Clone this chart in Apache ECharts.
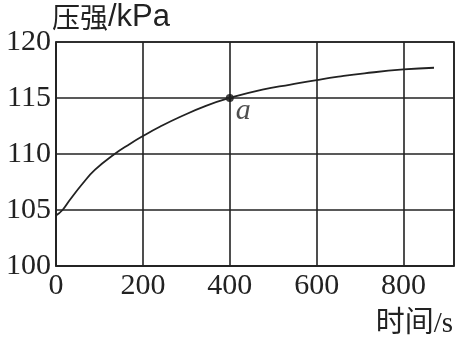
<!DOCTYPE html>
<html><head><meta charset="utf-8">
<script src="https://cdn.jsdelivr.net/npm/echarts@6/dist/echarts.min.js"></script>
<style>html,body{margin:0;padding:0;background:#fff}#c{width:462px;height:338px}</style>
</head><body><div id="c"></div>
<script>
var timeS = [0, 15, 30, 60, 90, 135, 170, 200, 240, 285, 345, 400, 475, 540, 600, 650, 710, 800, 870];
var pressure = [104.5, 105.0, 105.8, 107.3, 108.6, 110.0, 110.9, 111.6, 112.45, 113.3, 114.3, 115.0, 115.75, 116.2, 116.6, 116.9, 117.2, 117.55, 117.7];
var pointA = [400, 115];
var pointALabel = 'a';
var yTicks = [100, 105, 110, 115, 120];
var xTicks = [0, 200, 400, 600, 800];

var serif = '"Liberation Serif", "Noto Sans CJK SC", serif';
var chart = echarts.init(document.getElementById('c'));
chart.setOption({
  animation: false,
  backgroundColor: '#fff',
  grid: {left: 56, right: 8, top: 42, bottom: 72, show: true, borderColor: '#222', borderWidth: 1.6,
    outerBoundsMode: 'none', containLabel: false},
  xAxis: {
    type: 'value', min: xTicks[0], max: 916, interval: 200,
    name: '时间/s', nameLocation: 'end', nameGap: -1, nameMoveOverlap: false,
    nameTextStyle: {fontFamily: serif, fontSize: 29, color: '#222', align: 'right', verticalAlign: 'top', padding: [44, 0, 0, 0]},
    axisLine: {lineStyle: {color: '#222', width: 1.6}},
    axisTick: {show: false},
    axisLabel: {fontFamily: serif, fontSize: 30, color: '#222', margin: 5, showMaxLabel: false},
    splitLine: {show: true, lineStyle: {color: '#222', width: 1.6}}
  },
  yAxis: {
    type: 'value', min: yTicks[0], max: yTicks[yTicks.length - 1], interval: 5,
    name: '{c|压强}{l|/kPa}', nameLocation: 'end', nameGap: 9, nameMoveOverlap: false,
    nameTextStyle: {color: '#222', align: 'left', verticalAlign: 'bottom', padding: [0, 0, 0, -4],
      rich: {
        c: {fontFamily: '"Noto Sans CJK SC", sans-serif', fontSize: 28, color: '#222'},
        l: {fontFamily: '"Liberation Sans", sans-serif', fontSize: 31, color: '#222'}
      }},
    axisLine: {show: true, lineStyle: {color: '#222', width: 1.6}},
    axisTick: {show: false},
    axisLabel: {fontFamily: serif, fontSize: 30, color: '#222', margin: 5},
    splitLine: {show: true, lineStyle: {color: '#222', width: 1.6}}
  },
  series: [
    {
      type: 'line', smooth: 0.5, symbol: 'none',
      data: timeS.map(function (t, i) { return [t, pressure[i]]; }),
      lineStyle: {color: '#222', width: 1.8}
    },
    {
      type: 'scatter', symbolSize: 8, data: [pointA],
      itemStyle: {color: '#111'},
      label: {show: true, formatter: pointALabel, position: 'right', distance: 2, offset: [0, 13],
        fontFamily: serif, fontStyle: 'italic', fontSize: 30, color: '#222'}
    }
  ]
});
</script></body></html>
